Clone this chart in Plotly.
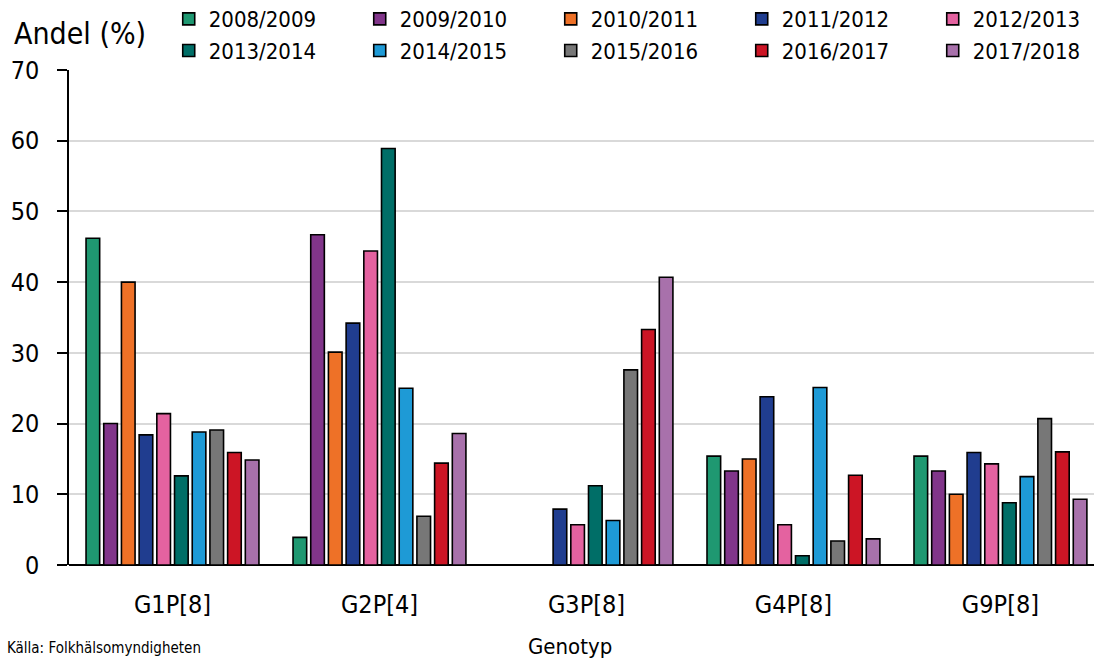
import plotly.graph_objects as go

genotypes = ["G1P[8]", "G2P[4]", "G3P[8]", "G4P[8]", "G9P[8]"]
seasons = ["2008/2009", "2009/2010", "2010/2011", "2011/2012", "2012/2013",
           "2013/2014", "2014/2015", "2015/2016", "2016/2017", "2017/2018"]
colors = ["#1f9871", "#81358a", "#ee7127", "#203d8f", "#e462a0",
          "#006e67", "#1e9ad6", "#777777", "#cc1525", "#a871ab"]

s2008_2009 = [46.2, 3.9, 0, 15.4, 15.4]
s2009_2010 = [20.0, 46.7, 0, 13.3, 13.3]
s2010_2011 = [40.0, 30.1, 0, 15.0, 10.0]
s2011_2012 = [18.4, 34.2, 7.9, 23.8, 15.9]
s2012_2013 = [21.4, 44.4, 5.7, 5.7, 14.3]
s2013_2014 = [12.6, 58.9, 11.2, 1.3, 8.8]
s2014_2015 = [18.8, 25.0, 6.3, 25.1, 12.5]
s2015_2016 = [19.1, 6.9, 27.6, 3.4, 20.7]
s2016_2017 = [15.9, 14.4, 33.3, 12.7, 16.0]
s2017_2018 = [14.85, 18.6, 40.7, 3.7, 9.3]

series = [s2008_2009, s2009_2010, s2010_2011, s2011_2012, s2012_2013,
          s2013_2014, s2014_2015, s2015_2016, s2016_2017, s2017_2018]

y_ticks = [0, 10, 20, 30, 40, 50, 60, 70]

FONT = "DejaVu Sans Condensed, DejaVu Sans, sans-serif"

fig = go.Figure()
for name, vals, col in zip(seasons, series, colors):
    fig.add_trace(go.Bar(
        x=genotypes, y=vals, name=name,
        marker=dict(color=col, line=dict(color="#000000", width=1.6)),
    ))

fig.update_layout(
    width=1094, height=660,
    margin=dict(l=69, r=0, t=70, b=95, autoexpand=False),
    paper_bgcolor="white", plot_bgcolor="white",
    barmode="group", bargap=0.145, bargroupgap=0.23,
    font=dict(family=FONT, color="#000000"),
    showlegend=True,
    legend=dict(
        orientation="h", xref="paper", yref="paper",
        x=0.0973, y=1.1454, xanchor="left", yanchor="top",
        entrywidth=146, entrywidthmode="pixels",
        font=dict(family=FONT, size=22, color="#000000"),
        bgcolor="rgba(0,0,0,0)", itemclick=False,
        tracegroupgap=0,
    ),
    xaxis=dict(
        type="category", range=[-0.5, 4.452], automargin=False,
        showline=False, ticks="", showgrid=False, zeroline=False,
        tickfont=dict(family=FONT, size=25),
        ticklabelstandoff=22,
    ),
    yaxis=dict(
        range=[0, 70], tickvals=y_ticks, ticktext=[str(v) for v in y_ticks],
        automargin=False,
        showline=True, linecolor="#000000", linewidth=1.5,
        ticks="outside", ticklen=10, tickcolor="#000000", tickwidth=1.5,
        showgrid=True, gridcolor="#d9d9d9", gridwidth=1.5,
        zeroline=True, zerolinecolor="#000000", zerolinewidth=2,
        tickfont=dict(family=FONT, size=25),
        ticklabelstandoff=13,
    ),
    annotations=[
        dict(text="Andel (%)", xref="paper", yref="paper", x=-0.056, y=1.0747,
             xanchor="left", yanchor="middle", showarrow=False,
             font=dict(family=FONT, size=30, color="#000000")),
        dict(text="Genotyp", xref="paper", yref="paper", x=0.489, y=-0.165,
             xanchor="center", yanchor="middle", showarrow=False,
             font=dict(family=FONT, size=22, color="#000000")),
        dict(text="Källa: Folkhälsomyndigheten", xref="paper", yref="paper",
             x=-0.062, y=-0.19, xanchor="left", yanchor="bottom", showarrow=False,
             font=dict(family=FONT, size=15, color="#000000")),
    ],
)

fig.write_html(
    "out.html",
    config={"displayModeBar": False},
    post_script="document.body.style.margin='0';document.body.style.overflow='hidden';",
)
